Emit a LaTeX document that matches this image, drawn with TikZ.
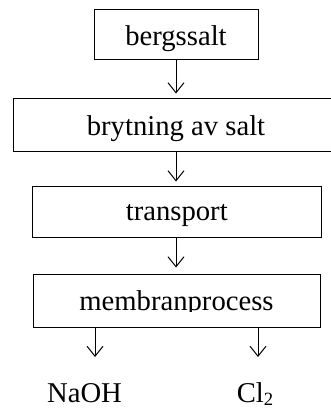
\documentclass[tikz,border=0pt]{standalone}
\usepackage{fontspec}
\setmainfont{Liberation Serif}
\usetikzlibrary{arrows.meta,calc}
\tikzset{
  box/.style={draw, line width=0.75pt, inner sep=0pt, align=center,
    font=\fontsize{21.5pt}{25pt}\selectfont},
  lbl/.style={inner sep=0pt, anchor=base, font=\fontsize{21.5pt}{25pt}\selectfont},
  arr/.style={line width=0.75pt, -{Straight Barb[length=7.5pt,width=12pt,line width=0.75pt]}}
}
\begin{document}
\begin{tikzpicture}[x=0.75pt,y=-0.75pt]
\useasboundingbox (0,0) rectangle (331,408);
\clip (0,0) rectangle (331,408);
\node[box, minimum width=123pt, minimum height=38pt, text height=26.8pt, text depth=11.2pt] (b1) at (176,34.65) {bergssalt};
\node[box, minimum width=244.5pt, minimum height=39.75pt, text height=27.75pt, text depth=12pt] (b2) at (176,124.5) {brytning av salt};
\node[box, minimum width=216.75pt, minimum height=38.25pt, text height=25.5pt, text depth=12.75pt] (b3) at (176.8,211.5) {transport};
\node[box, minimum width=215.25pt, minimum height=39.75pt, text height=27pt, text depth=12.75pt] (b4) at (176.5,300.5) {membranprocess};
\fill[white] ($(b4.south west)+(2,-2)$) rectangle ($(b4.south east)+(-2,-15.5)$);
\draw[arr, shorten >=3pt] (b1.south) -- (b2.north -| b1.south);
\draw[arr, shorten >=3pt] (b2.south) -- (b3.north -| b2.south);
\draw[arr, shorten >=4.5pt] (b3.south -| b2.south) -- (b4.north -| b2.south);
\coordinate (e1) at (95,357);
\coordinate (e2) at (258,357);
\draw[arr] (b4.south -| e1) -- (e1);
\draw[arr] (b4.south -| e2) -- (e2);
\node[lbl] (naoh) at (84.5,402) {NaOH};
\node[lbl] (cl) at (255,402) {Cl\raisebox{-2.6pt}{\fontsize{14pt}{14pt}\selectfont 2}};
\end{tikzpicture}
\end{document}
